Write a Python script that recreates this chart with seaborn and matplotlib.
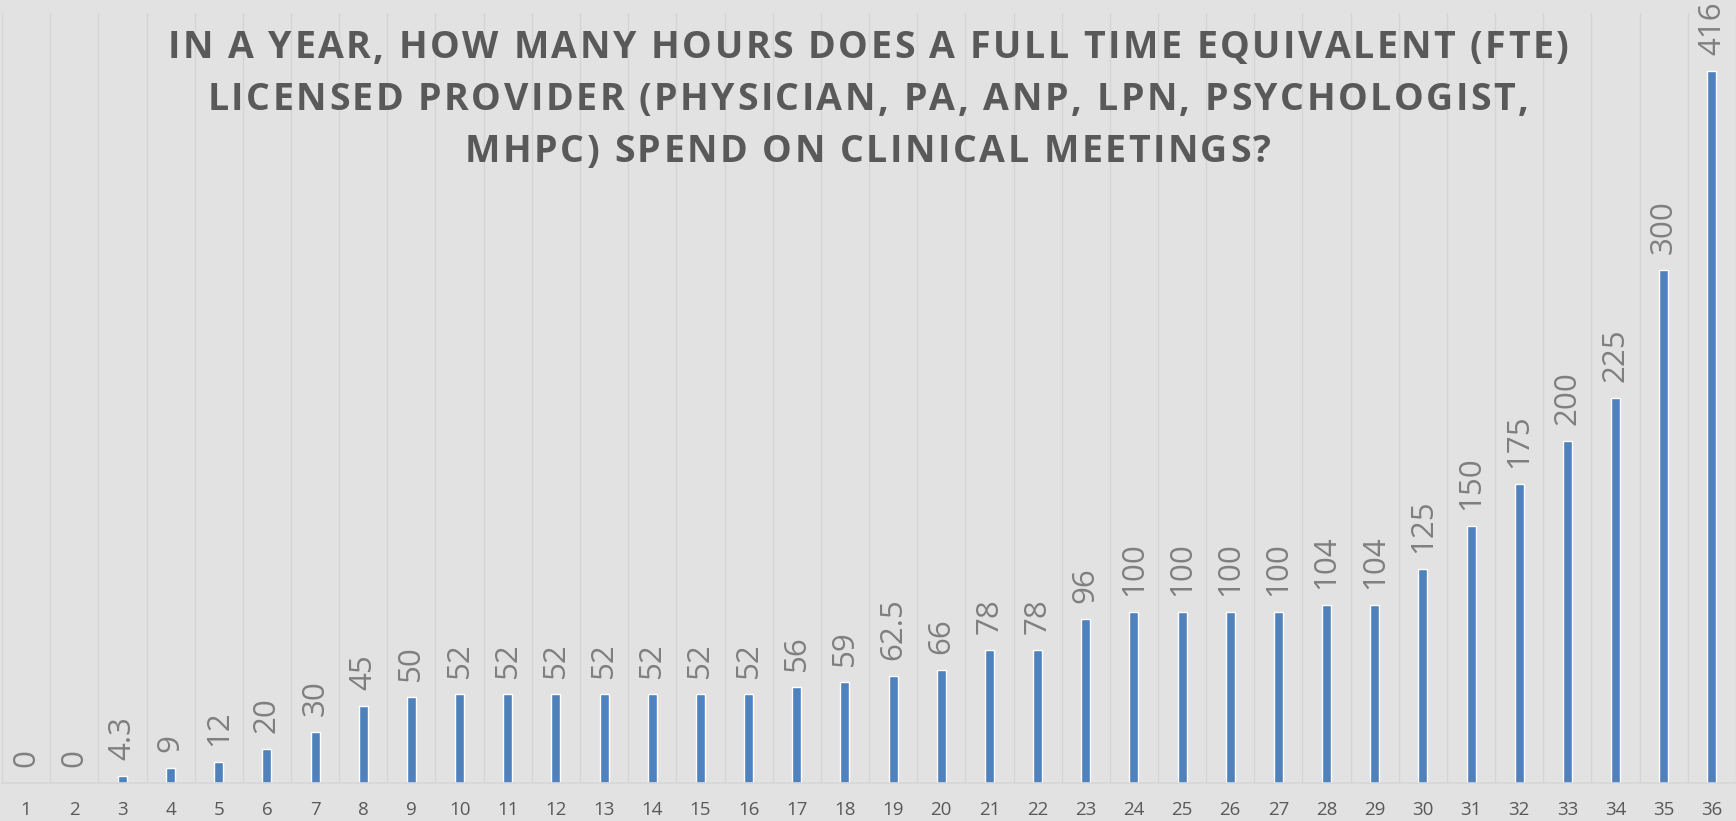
import matplotlib
matplotlib.use("Agg")
import matplotlib.pyplot as plt
import seaborn as sns
import pandas as pd
import numpy as np
from matplotlib.font_manager import FontProperties, findfont, get_font

categories = [str(i) for i in range(1, 37)]
values = [0, 0, 4.3, 9, 12, 20, 30, 45, 50, 52, 52, 52, 52, 52, 52, 52, 56, 59,
          62.5, 66, 78, 78, 96, 100, 100, 100, 100, 104, 104, 125, 150, 175, 200,
          225, 300, 416]
value_labels = ["0", "0", "4.3", "9", "12", "20", "30", "45", "50", "52", "52", "52",
                "52", "52", "52", "52", "56", "59", "62.5", "66", "78", "78", "96",
                "100", "100", "100", "100", "104", "104", "125", "150", "175", "200",
                "225", "300", "416"]
title_lines = ["IN A YEAR, HOW MANY HOURS DOES A FULL TIME EQUIVALENT (FTE)",
               "LICENSED PROVIDER (PHYSICIAN, PA, ANP, LPN, PSYCHOLOGIST,",
               "MHPC) SPEND ON CLINICAL MEETINGS?"]

df = pd.DataFrame({"cat": categories, "val": values})

sns.set_theme(style="white")
plt.rcParams["font.family"] = ["Open Sans", "DejaVu Sans"]

W, H, DPI = 1736, 821, 100
BG = "#e2e2e2"
fig = plt.figure(figsize=(W / DPI, H / DPI), dpi=DPI, facecolor=BG)
ax = fig.add_axes([2 / W, 38 / H, 1 - 2 / W, (H - 38 - 13) / H])
ax.set_facecolor(BG)

sns.barplot(data=df, x="cat", y="val", color="#4f81bd", width=0.19,
            saturation=1, ax=ax, order=categories)

ax.set_ylim(0, 450)
ax.set_xlim(-0.5, 35.5)

for i, (v, lab) in enumerate(zip(values, value_labels)):
    ax.annotate(lab, xy=(i, v), xytext=(0, 16), textcoords="offset pixels",
                rotation=90, ha="center", va="bottom", fontsize=22.5,
                color="#7f7f7f", annotation_clip=False)

ax.set_xticks(range(36))
ax.set_xticklabels(categories, fontsize=13.5, color="#595959")
ax.set_xticks(np.arange(-0.5, 36, 1), minor=True)
ax.grid(True, which="minor", axis="x", color="#d5d5d5", linewidth=1)
ax.tick_params(axis="x", which="both", length=0, pad=13)
ax.set_yticks([])
ax.set_xlabel("")
ax.set_ylabel("")
for s in ["top", "right", "left"]:
    ax.spines[s].set_visible(False)
ax.spines["bottom"].set_color("#d6d6d6")
ax.spines["bottom"].set_linewidth(1.2)

# Title with letter spacing, laid out character by character
TSIZE = 27
fp = FontProperties(family="Open Sans", weight="bold", size=TSIZE)
font = get_font(findfont(fp))
font.set_size(TSIZE, DPI)
spacing = 2.5
baselines = [58.5, 110.5, 162.5]
for line, base in zip(title_lines, baselines):
    advs = [font.load_char(ord(c)).linearHoriAdvance / 65536 for c in line]
    total = sum(advs) + spacing * (len(line) - 1)
    x = W / 2 - total / 2
    for c, a in zip(line, advs):
        if c != " ":
            fig.text(x / W, 1 - base / H, c, ha="left", va="baseline",
                     fontproperties=fp, color="#595959")
        x += a + spacing

fig.savefig("out.png", dpi=DPI, facecolor=BG)
